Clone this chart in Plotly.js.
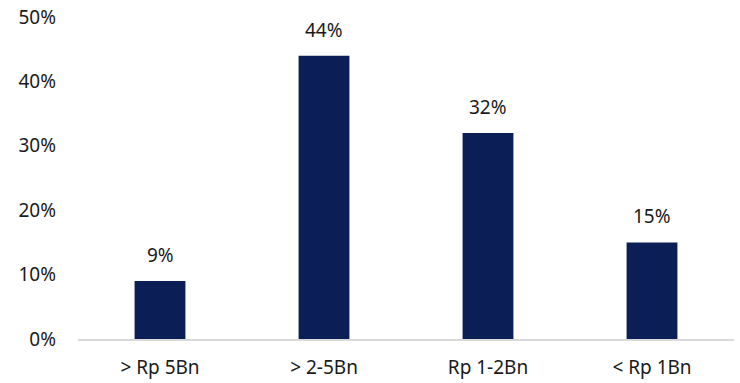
<!DOCTYPE html>
<html><head><meta charset="utf-8">
<script src="https://cdn.plot.ly/plotly-3.0.1.min.js"></script>
<style>html,body{margin:0;padding:0;background:#fff}</style>
</head><body>
<div id="chart" style="width:740px;height:383px"></div>
<script>
const categories = ["> Rp 5Bn", "> 2-5Bn", "Rp 1-2Bn", "< Rp 1Bn"];
const shares = [0.09, 0.44, 0.32, 0.15];
const valueLabels = ["9%", "44%", "32%", "15%"];
const yTickVals = [0, 0.1, 0.2, 0.3, 0.4, 0.5];
const yTickText = ["0%", "10%", "20%", "30%", "40%", "50%"];

const font = {family: "'Noto Sans', 'Open Sans', sans-serif", size: 19, color: "#1a1a1a"};

const trace = {
  type: "bar", x: categories, y: shares,
  marker: {color: "#0B1F56"}, hoverinfo: "skip"
};

const annotations = categories.map((c, i) => ({
  x: c, y: shares[i], text: valueLabels[i], showarrow: false,
  yanchor: "bottom", yshift: 11, font: font
}));

const layout = {
  width: 740, height: 383,
  margin: {l: 78, r: 6, t: 17, b: 44},
  paper_bgcolor: "#fff", plot_bgcolor: "#fff",
  font: font, showlegend: false, bargap: 0.69,
  xaxis: {type: "category", showline: true, linecolor: "#D9D9D9", linewidth: 1.5,
          ticks: "", ticklabelstandoff: 11, tickfont: font, fixedrange: true},
  yaxis: {range: [0, 0.5], tickvals: yTickVals, ticktext: yTickText, showgrid: false,
          zeroline: false, showline: false, ticks: "", ticklabelstandoff: 21, tickfont: font},
  annotations: annotations
};

Plotly.newPlot("chart", [trace], layout, {displayModeBar: false, staticPlot: true});
</script>
</body></html>
